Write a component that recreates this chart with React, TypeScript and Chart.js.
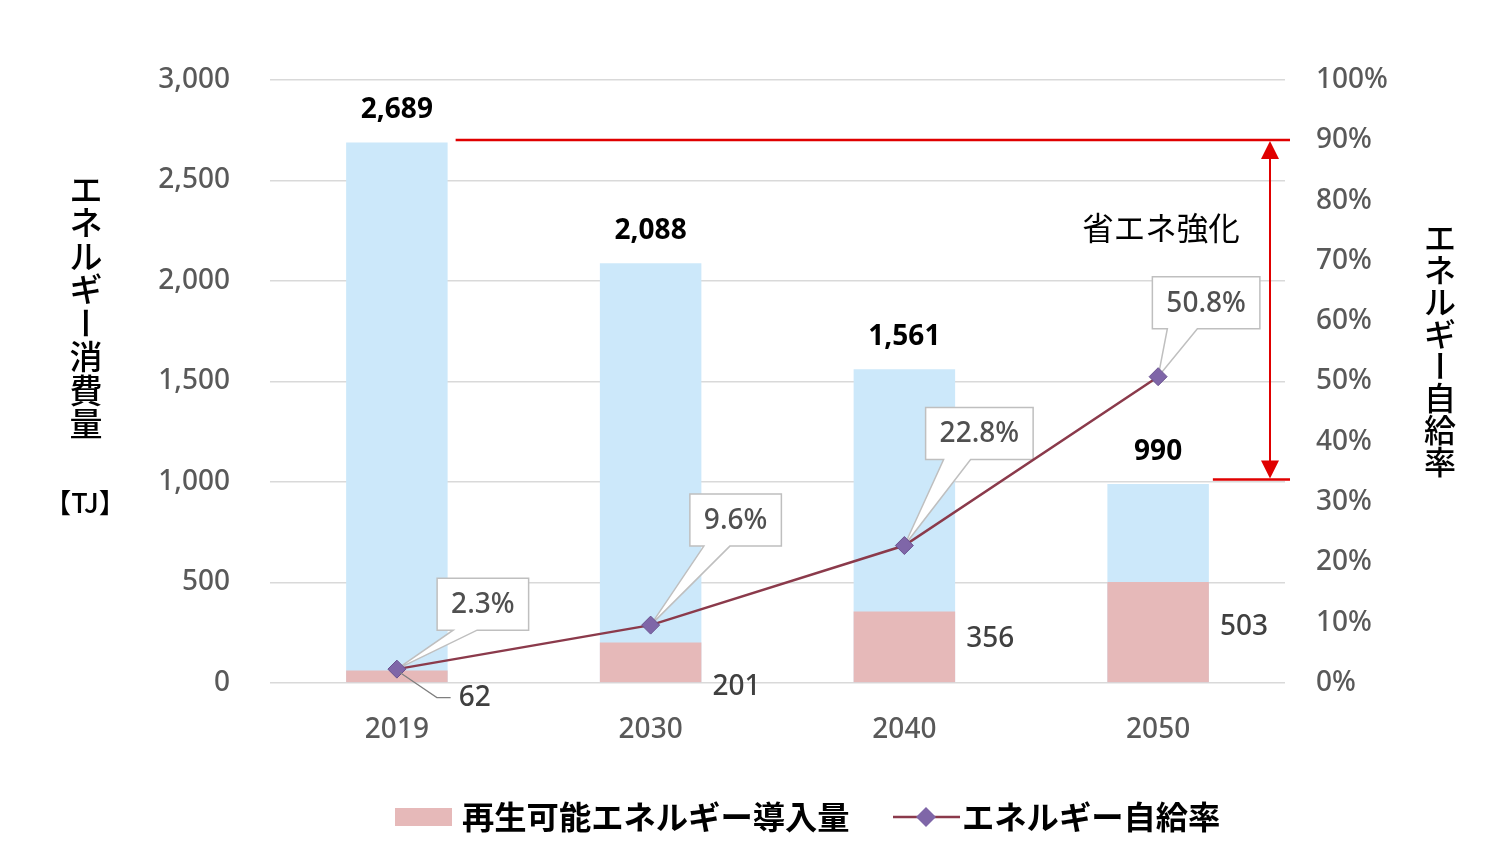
import { useEffect, useRef } from "react";
import { Chart, registerables } from "chart.js";

Chart.register(...registerables);

// ---- data ----
const years = ["2019", "2030", "2040", "2050"];
const totalConsumption = [2689, 2088, 1561, 990];
const renewableIntroduced = [62, 201, 356, 503];
const selfSufficiencyRate = [2.3, 9.6, 22.8, 50.8];

const seriesRenewableLabel = "再生可能エネルギー導入量";
const seriesRateLabel = "エネルギー自給率";
const leftAxisTitle = "エネルギー消費量";
const leftAxisUnit = "【TJ】";
const rightAxisTitle = "エネルギー自給率";
const annotationText = "省エネ強化";

// ---- layout helpers (style only) ----
const calloutLayout = [
  { cx: 86, cy: -65, b0: 16, b1: 40 },
  { cx: 85, cy: -105, b0: 14, b1: 40 },
  { cx: 75, cy: -112, b0: 18, b1: 45 },
  { cx: 48, cy: -74, b0: 15, b1: 45 },
];
const renewableLabelDy = [27, 44, 28, 45];

const BLUE = "rgb(204,232,250)";
const PINK = "rgb(230,185,185)";
const LINE = "#8b3a4b";
const DIAMOND = "#7f66a8";
const RED = "#e00000";
const TICK = "#595959";
const NUM_FONT = '"Noto Sans", "DejaVu Sans", sans-serif';
const JP_FONT = '"Noto Sans CJK JP", "Noto Sans", sans-serif';

function drawVertical(ctx: CanvasRenderingContext2D, text: string, x: number, y0: number, step: number, font: string) {
  ctx.save();
  ctx.font = font;
  ctx.fillStyle = "#000";
  ctx.textAlign = "center";
  ctx.textBaseline = "middle";
  Array.from(text).forEach((ch, i) => {
    const y = y0 + i * step;
    if (ch === "ー") {
      ctx.save();
      ctx.translate(x, y);
      ctx.rotate(Math.PI / 2);
      ctx.fillText(ch, 0, 0);
      ctx.restore();
    } else {
      ctx.fillText(ch, x, y);
    }
  });
  ctx.restore();
}

const decorPlugin = {
  id: "decor",
  beforeDatasetDraw(chart: any, args: any) {
    if (args.index !== 2) return;
    const ctx: CanvasRenderingContext2D = chart.ctx;
    const meta = chart.getDatasetMeta(2);
    ctx.save();
    ctx.font = `500 28px ${NUM_FONT}`;
    meta.data.forEach((pt: any, i: number) => {
      const L = calloutLayout[i];
      const txt = selfSufficiencyRate[i].toFixed(1) + "%";
      const tw = ctx.measureText(txt).width;
      const w = tw + 28;
      const h = 52;
      const cx = pt.x + L.cx;
      const cy = pt.y + L.cy;
      const left = cx - w / 2;
      const top = cy - h / 2;
      const bottom = top + h;
      ctx.beginPath();
      ctx.moveTo(left, top);
      ctx.lineTo(left + w, top);
      ctx.lineTo(left + w, bottom);
      ctx.lineTo(left + L.b1, bottom);
      ctx.lineTo(pt.x, pt.y);
      ctx.lineTo(left + L.b0, bottom);
      ctx.lineTo(left, bottom);
      ctx.closePath();
      ctx.fillStyle = "#fff";
      ctx.fill();
      ctx.strokeStyle = "#bfbfbf";
      ctx.lineWidth = 1.5;
      ctx.stroke();
      ctx.fillStyle = "#505050";
      ctx.textAlign = "center";
      ctx.textBaseline = "middle";
      ctx.fillText(txt, cx, cy + 1);
    });
    ctx.restore();
  },
  afterDraw(chart: any) {
    const ctx: CanvasRenderingContext2D = chart.ctx;
    const ys = chart.scales.y;
    const area = chart.chartArea;
    const totalMeta = chart.getDatasetMeta(0);
    const renMeta = chart.getDatasetMeta(1);

    // totals above bars
    ctx.save();
    ctx.font = `bold 28px ${NUM_FONT}`;
    ctx.fillStyle = "#000";
    ctx.textAlign = "center";
    ctx.textBaseline = "middle";
    totalMeta.data.forEach((bar: any, i: number) => {
      ctx.fillText(totalConsumption[i].toLocaleString("en-US"), bar.x, bar.y - 32);
    });
    ctx.restore();

    // renewable labels
    ctx.save();
    ctx.font = `500 28px ${NUM_FONT}`;
    ctx.fillStyle = "#404040";
    ctx.textAlign = "left";
    ctx.textBaseline = "middle";
    renMeta.data.forEach((bar: any, i: number) => {
      const right = bar.x + bar.width / 2;
      const y = bar.y + renewableLabelDy[i];
      ctx.fillText(String(renewableIntroduced[i]), right + 11, y);
      if (i === 0) {
        ctx.strokeStyle = "#7f7f7f";
        ctx.lineWidth = 1.2;
        ctx.beginPath();
        ctx.moveTo(bar.x + 3, bar.y + 2);
        ctx.lineTo(bar.x + 40, y);
        ctx.lineTo(right + 3, y);
        ctx.stroke();
      }
    });
    ctx.restore();

    // red annotation
    const yTop = ys.getPixelForValue(totalConsumption[0]) - 2.5;
    const yBot = ys.getPixelForValue(totalConsumption[3]) - 4.5;
    const firstRight = totalMeta.data[0].x + totalMeta.data[0].width / 2;
    const lastRight = totalMeta.data[3].x + totalMeta.data[3].width / 2;
    const ax = area.right - 15;
    ctx.save();
    ctx.strokeStyle = RED;
    ctx.fillStyle = RED;
    ctx.lineWidth = 2.5;
    ctx.beginPath();
    ctx.moveTo(firstRight + 8, yTop);
    ctx.lineTo(area.right + 5, yTop);
    ctx.moveTo(lastRight + 4, yBot);
    ctx.lineTo(area.right + 5, yBot);
    ctx.stroke();
    ctx.lineWidth = 2;
    ctx.beginPath();
    ctx.moveTo(ax, yTop + 15);
    ctx.lineTo(ax, yBot - 15);
    ctx.stroke();
    ctx.beginPath();
    ctx.moveTo(ax, yTop + 1);
    ctx.lineTo(ax - 9, yTop + 19);
    ctx.lineTo(ax + 9, yTop + 19);
    ctx.closePath();
    ctx.fill();
    ctx.beginPath();
    ctx.moveTo(ax, yBot - 1);
    ctx.lineTo(ax - 9, yBot - 19);
    ctx.lineTo(ax + 9, yBot - 19);
    ctx.closePath();
    ctx.fill();
    ctx.font = `31.5px ${JP_FONT}`;
    ctx.fillStyle = "#000";
    ctx.textAlign = "center";
    ctx.textBaseline = "middle";
    ctx.fillText(annotationText, ax - 109, (yTop + yBot) / 2 - 82);
    ctx.restore();

    // axis titles
    drawVertical(ctx, leftAxisTitle, 86, 189, 33.5, `500 33px ${JP_FONT}`);
    ctx.save();
    ctx.font = `500 27px ${JP_FONT}`;
    ctx.fillStyle = "#000";
    ctx.textAlign = "center";
    ctx.textBaseline = "middle";
    ctx.fillText(leftAxisUnit, 85, 503);
    ctx.restore();
    drawVertical(ctx, rightAxisTitle, 1440, 238, 32, `500 32px ${JP_FONT}`);

    // legend
    ctx.save();
    const ly = 817;
    ctx.fillStyle = PINK;
    ctx.fillRect(395, ly - 9, 57, 18);
    ctx.font = `bold 32.3px ${JP_FONT}`;
    ctx.fillStyle = "#000";
    ctx.textAlign = "left";
    ctx.textBaseline = "middle";
    ctx.fillText(seriesRenewableLabel, 462, ly);
    ctx.strokeStyle = LINE;
    ctx.lineWidth = 2.5;
    ctx.beginPath();
    ctx.moveTo(893, ly);
    ctx.lineTo(960, ly);
    ctx.stroke();
    ctx.fillStyle = DIAMOND;
    ctx.beginPath();
    ctx.moveTo(926, ly - 10);
    ctx.lineTo(936, ly);
    ctx.lineTo(926, ly + 10);
    ctx.lineTo(916, ly);
    ctx.closePath();
    ctx.fill();
    ctx.fillStyle = "#000";
    ctx.fillText(seriesRateLabel, 962, ly);
    ctx.restore();
  },
};

export default function App() {
  const ref = useRef<HTMLCanvasElement | null>(null);
  useEffect(() => {
    if (!ref.current) return;
    const chart = new Chart(ref.current, {
      type: "bar",
      data: {
        labels: years,
        datasets: [
          {
            type: "bar",
            label: "total",
            data: totalConsumption,
            backgroundColor: BLUE,
            grouped: false,
            order: 2,
            yAxisID: "y",
            barPercentage: 0.4,
            categoryPercentage: 1,
          } as any,
          {
            type: "bar",
            label: seriesRenewableLabel,
            data: renewableIntroduced,
            backgroundColor: PINK,
            grouped: false,
            order: 1,
            yAxisID: "y",
            barPercentage: 0.4,
            categoryPercentage: 1,
          } as any,
          {
            type: "line",
            label: seriesRateLabel,
            data: selfSufficiencyRate,
            borderColor: LINE,
            borderWidth: 2.5,
            pointStyle: "rectRot",
            pointRadius: 9,
            pointBackgroundColor: DIAMOND,
            pointBorderColor: "#6a5290",
            pointBorderWidth: 1,
            tension: 0,
            order: 0,
            yAxisID: "y1",
          } as any,
        ],
      },
      options: {
        responsive: false,
        animation: false,
        devicePixelRatio: 1,
        layout: { padding: { top: 80, bottom: 0, left: 0, right: 0 } },
        plugins: {
          legend: { display: false },
          tooltip: { enabled: false },
        },
        scales: {
          x: {
            grid: { display: false, drawTicks: false },
            border: { display: false },
            ticks: { color: TICK, font: { family: NUM_FONT, size: 28, weight: "500" }, padding: 30 },
            afterFit: (s: any) => {
              s.height = 179;
            },
          },
          y: {
            position: "left",
            min: 0,
            max: 3000,
            ticks: {
              stepSize: 500,
              color: TICK,
              font: { family: NUM_FONT, size: 28, weight: "500" },
              padding: 40,
              callback: (v: any) => Number(v).toLocaleString("en-US"),
            },
            grid: { color: "#d9d9d9", lineWidth: 1.5, drawTicks: false },
            border: { display: false },
            afterFit: (s: any) => {
              s.width = 270;
            },
          },
          y1: {
            position: "right",
            min: 0,
            max: 100,
            ticks: {
              stepSize: 10,
              color: TICK,
              font: { family: NUM_FONT, size: 28, weight: "500" },
              padding: 31,
              callback: (v: any) => v + "%",
            },
            grid: { display: false, drawTicks: false },
            border: { display: false },
            afterFit: (s: any) => {
              s.width = 215;
            },
          },
        },
      } as any,
      plugins: [decorPlugin],
    });
    return () => chart.destroy();
  }, []);
  return (
    <div style={{ position: "fixed", left: 0, top: 0, width: 1500, height: 862, background: "#fff" }}>
      <canvas ref={ref} width={1500} height={862} style={{ display: "block" }} />
    </div>
  );
}
